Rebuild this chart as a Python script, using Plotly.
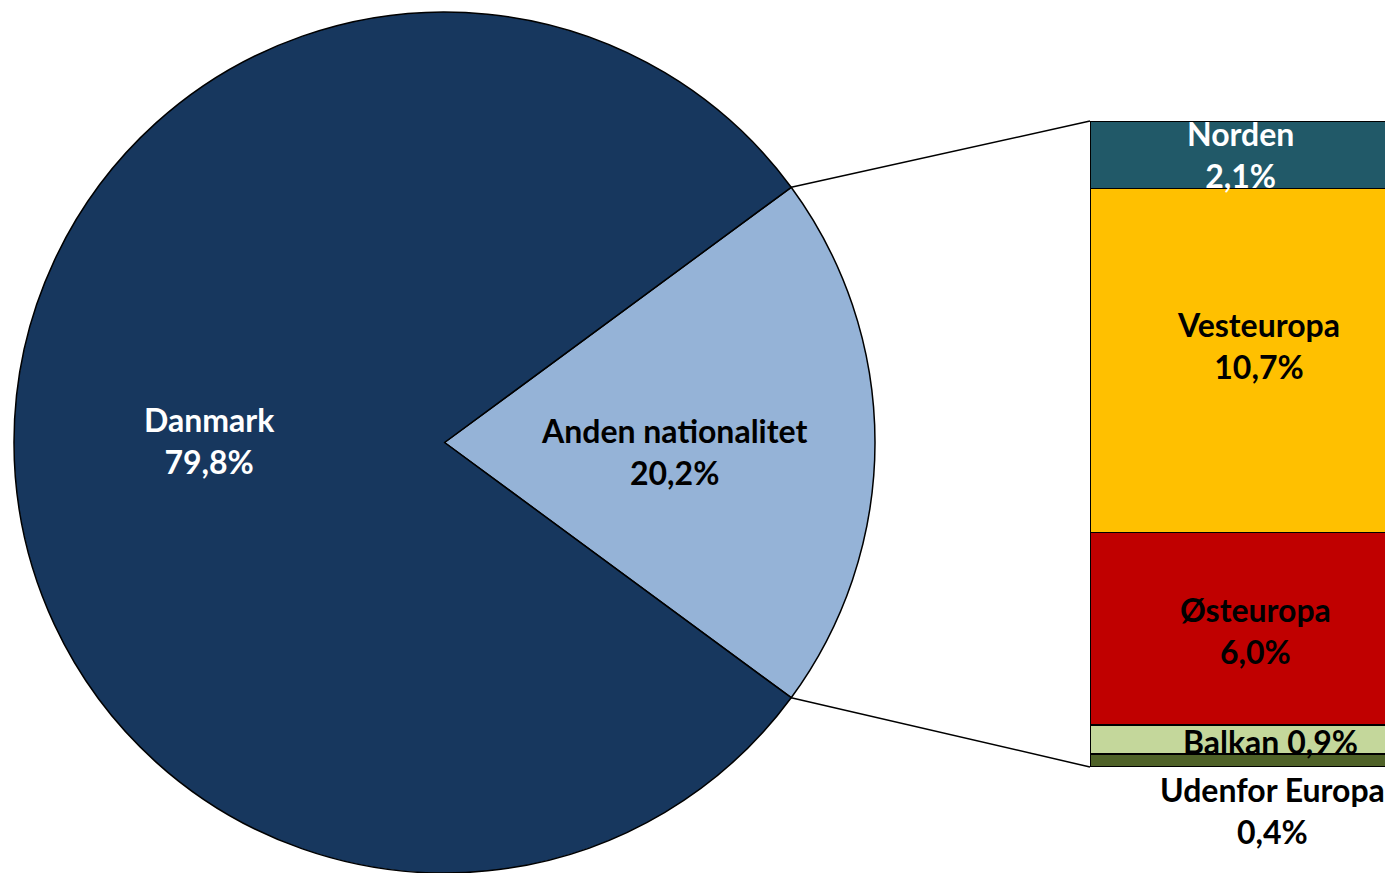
import math
import plotly.graph_objects as go

# ---- data ----
pie_labels = ["Anden nationalitet", "Danmark"]
pie_values = [20.2, 79.8]
pie_colors = ["#95B3D7", "#17375E"]
pie_text_colors = ["black", "white"]

bar_labels = ["Udenfor Europa", "Balkan", "Østeuropa", "Vesteuropa", "Norden"]
bar_values = [0.4, 0.9, 6.0, 10.7, 2.1]
bar_colors = ["#4F6228", "#C4D79B", "#C00000", "#FFC000", "#215968"]
bar_text_colors = ["black", "black", "black", "black", "white"]

OFF = 8                      # page margin of the browser body
W, H = 1393 - OFF, 873 - OFF
FONT = "Lato"
FS = 32

def pct(v):
    return f"{v:.1f}".replace(".", ",") + "%"

def px2paper(x, y):
    """reference-window pixel -> figure paper coordinates"""
    return (x - OFF) / W, 1 - (y - OFF) / H

# pie geometry (window pixels)
cx, cy, r = 444.5, 442.5, 430.5
x0p, y0p = px2paper(cx - r, cy + r)
x1p, y1p = px2paper(cx + r, cy - r)

anden_share = pie_values[0] / sum(pie_values)
half_angle = anden_share * 360 / 2  # slice centred at 3 o'clock

fig = go.Figure()
fig.add_trace(go.Pie(
    labels=pie_labels, values=pie_values, sort=False, direction="clockwise",
    rotation=90 - half_angle,
    marker=dict(colors=pie_colors, line=dict(color="black", width=1.5)),
    textinfo="none", hoverinfo="label+percent", showlegend=False,
    domain=dict(x=[x0p, x1p], y=[max(0, y0p), min(1, y1p)]),
))

# pie labels (text positions in window pixels)
pie_label_pos = [(674, 451.5), (209, 440)]
for lab, val, col, (lx, ly) in zip(pie_labels, pie_values, pie_text_colors, pie_label_pos):
    ax, ay = px2paper(lx, ly)
    fig.add_annotation(x=ax, y=ay, xref="paper", yref="paper",
                       xanchor="center", yanchor="middle",
                       text=f"<b>{lab}<br>{pct(val)}</b>", showarrow=False,
                       font=dict(family=FONT, size=FS, color=col), align="center")

# stacked bar
bar_x0_px, bar_top_px, bar_bot_px = 1090, 121, 767
total = sum(bar_values)
for lab, val, col in zip(bar_labels, bar_values, bar_colors):
    fig.add_trace(go.Bar(
        x=[0], y=[val], name=lab, width=1,
        marker=dict(color=col, line=dict(color="black", width=1.5)),
        showlegend=False, hoverinfo="name+y",
    ))

bx0, _ = px2paper(bar_x0_px, 0)
_, by_bot = px2paper(0, bar_bot_px)
_, by_top = px2paper(0, bar_top_px)
fig.update_layout(
    barmode="stack",
    width=W, height=H, margin=dict(l=0, r=0, t=0, b=0),
    paper_bgcolor="white", plot_bgcolor="rgba(0,0,0,0)",
    xaxis=dict(domain=[bx0, 1], range=[-0.5, 0.4], visible=False, fixedrange=True),
    yaxis=dict(domain=[by_bot, by_top], range=[0, total], visible=False, fixedrange=True),
)

# bar labels (text positions in window pixels)
bar_label_pos = [(1272, 810), (1270, 741), (1255, 630.5), (1258, 345.5), (1240, 154.5)]
for lab, val, col, (lx, ly) in zip(bar_labels, bar_values, bar_text_colors, bar_label_pos):
    ax, ay = px2paper(lx, ly)
    sep = " " if lab == "Balkan" else "<br>"
    fig.add_annotation(x=ax, y=ay, xref="paper", yref="paper",
                       xanchor="center", yanchor="middle",
                       text=f"<b>{lab}{sep}{pct(val)}</b>", showarrow=False,
                       font=dict(family=FONT, size=FS, color=col))

# connector lines from slice edges to bar corners
for sign, by in ((1, bar_top_px), (-1, bar_bot_px)):
    a = math.radians(sign * half_angle)
    px = cx + r * math.cos(a)
    py = cy - r * math.sin(a)
    xa, ya = px2paper(px, py)
    xb, yb = px2paper(bar_x0_px, by)
    fig.add_shape(type="line", xref="paper", yref="paper",
                  x0=xa, y0=ya, x1=xb, y1=yb, line=dict(color="black", width=1.5))

fig.write_html("out.html")
